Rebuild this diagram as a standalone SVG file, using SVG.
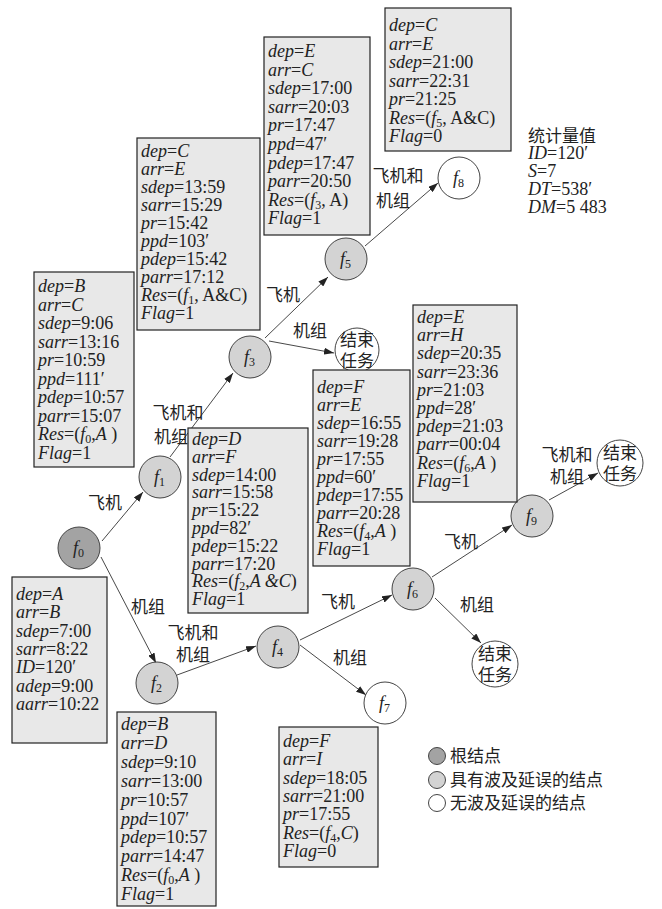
<svg xmlns="http://www.w3.org/2000/svg" width="662" height="909" viewBox="0 0 662 909">
<style>
.bg{fill:#fff}
.box{fill:#e8e8e8;stroke:#222;stroke-width:1.2}
.t{font-family:"Liberation Serif",serif;font-size:18px;fill:#222}
.i{font-style:italic}
.s{font-size:12px}
.cn{font-family:"Noto Sans CJK SC","Noto Sans",sans-serif;font-size:17px;fill:#222}
.mid{text-anchor:middle}
.root{fill:#a3a3a3;stroke:#444;stroke-width:1}
.del{fill:#d3d3d3;stroke:#444;stroke-width:1}
.ok{fill:#fff;stroke:#444;stroke-width:1}
.edge{stroke:#333;stroke-width:0.9;fill:none;marker-end:url(#ah)}
</style>
<defs>
<marker id="ah" markerUnits="userSpaceOnUse" markerWidth="10" markerHeight="7" refX="10" refY="3.5" orient="auto">
<path d="M0,0 L10,3.5 L0,7 z" fill="#222"/>
</marker>
</defs>
<rect class="bg" x="0" y="0" width="662" height="909"/>

<g id="connectors">
<line class="edge" x1="102" y1="541" x2="143" y2="492"/>
<line class="edge" x1="101" y1="557" x2="156" y2="663"/>
<line class="edge" x1="177" y1="675" x2="256" y2="646"/>
<line class="edge" x1="170" y1="457" x2="233" y2="373"/>
<line class="edge" x1="265" y1="338" x2="328" y2="277"/>
<line class="edge" x1="269" y1="341" x2="334" y2="353"/>
<line class="edge" x1="365" y1="246" x2="438" y2="183"/>
<line class="edge" x1="300" y1="640" x2="392" y2="595"/>
<line class="edge" x1="300" y1="645" x2="366" y2="695"/>
<line class="edge" x1="435" y1="598" x2="481" y2="643"/>
<line class="edge" x1="432" y1="577" x2="512" y2="525"/>
<line class="edge" x1="549" y1="500" x2="598" y2="473"/>
<text class="cn mid" x="105" y="509">飞机</text>
<text class="cn mid" x="148" y="613">机组</text>
<text class="cn mid" x="193" y="639">飞机和</text>
<text class="cn mid" x="193" y="661">机组</text>
<text class="cn mid" x="178" y="419">飞机和</text>
<text class="cn mid" x="171" y="443">机组</text>
<text class="cn mid" x="283" y="301">飞机</text>
<text class="cn mid" x="310" y="337">机组</text>
<text class="cn mid" x="398" y="182">飞机和</text>
<text class="cn mid" x="393" y="207">机组</text>
<text class="cn mid" x="338" y="608">飞机</text>
<text class="cn mid" x="350" y="664">机组</text>
<text class="cn mid" x="477" y="611">机组</text>
<text class="cn mid" x="461" y="548">飞机</text>
<text class="cn mid" x="567" y="461">飞机和</text>
<text class="cn mid" x="567" y="483">机组</text>
</g>

<g id="node-f0"><circle class="root" cx="79" cy="548" r="21"/><text class="t" x="73" y="554"><tspan class="i">f</tspan><tspan class="s" dy="3">0</tspan></text></g>
<g id="node-f1"><circle class="del" cx="160" cy="477" r="21"/><text class="t" x="154" y="483"><tspan class="i">f</tspan><tspan class="s" dy="3">1</tspan></text></g>
<g id="node-f2"><circle class="del" cx="157" cy="683" r="21"/><text class="t" x="151" y="689"><tspan class="i">f</tspan><tspan class="s" dy="3">2</tspan></text></g>
<g id="node-f3"><circle class="del" cx="250" cy="357" r="21"/><text class="t" x="244" y="363"><tspan class="i">f</tspan><tspan class="s" dy="3">3</tspan></text></g>
<g id="node-f4"><circle class="del" cx="278" cy="647" r="21"/><text class="t" x="272" y="653"><tspan class="i">f</tspan><tspan class="s" dy="3">4</tspan></text></g>
<g id="node-f5"><circle class="del" cx="346" cy="259" r="21"/><text class="t" x="340" y="265"><tspan class="i">f</tspan><tspan class="s" dy="3">5</tspan></text></g>
<g id="node-f6"><circle class="del" cx="413" cy="589" r="21"/><text class="t" x="407" y="595"><tspan class="i">f</tspan><tspan class="s" dy="3">6</tspan></text></g>
<g id="node-f7"><circle class="ok" cx="385" cy="703" r="21"/><text class="t" x="379" y="709"><tspan class="i">f</tspan><tspan class="s" dy="3">7</tspan></text></g>
<g id="node-f8"><circle class="ok" cx="459" cy="178" r="21"/><text class="t" x="453" y="184"><tspan class="i">f</tspan><tspan class="s" dy="3">8</tspan></text></g>
<g id="node-f9"><circle class="del" cx="532" cy="516" r="21"/><text class="t" x="526" y="522"><tspan class="i">f</tspan><tspan class="s" dy="3">9</tspan></text></g>
<g id="node-end1"><circle class="ok" cx="357" cy="350" r="22"/><text class="cn mid" x="357" y="346">结束</text><text class="cn mid" x="357" y="367">任务</text></g>
<g id="node-end2"><circle class="ok" cx="495" cy="664" r="23"/><text class="cn mid" x="495" y="660">结束</text><text class="cn mid" x="495" y="681">任务</text></g>
<g id="node-end3"><circle class="ok" cx="620" cy="463" r="23"/><text class="cn mid" x="620" y="459">结束</text><text class="cn mid" x="620" y="480">任务</text></g>

<g id="box-f8"><rect class="box" x="385" y="8" width="126" height="143"/>
<text class="t" x="389" y="31"><tspan class="i">dep</tspan>=<tspan class="i">C</tspan></text>
<text class="t" x="389" y="49.5"><tspan class="i">arr</tspan>=<tspan class="i">E</tspan></text>
<text class="t" x="389" y="68"><tspan class="i">sdep</tspan>=21:00</text>
<text class="t" x="389" y="86.5"><tspan class="i">sarr</tspan>=22:31</text>
<text class="t" x="389" y="105"><tspan class="i">pr</tspan>=21:25</text>
<text class="t" x="389" y="123.5"><tspan class="i">Res</tspan>=(<tspan class="i">f</tspan><tspan class="s" dy="3">5</tspan><tspan dy="-3">, A&amp;C)</tspan></text>
<text class="t" x="389" y="142"><tspan class="i">Flag</tspan>=0</text>
</g>

<g id="box-f5"><rect class="box" x="264" y="37" width="106" height="198"/>
<text class="t" x="268" y="57"><tspan class="i">dep</tspan>=<tspan class="i">E</tspan></text>
<text class="t" x="268" y="75.6"><tspan class="i">arr</tspan>=<tspan class="i">C</tspan></text>
<text class="t" x="268" y="94.2"><tspan class="i">sdep</tspan>=17:00</text>
<text class="t" x="268" y="112.8"><tspan class="i">sarr</tspan>=20:03</text>
<text class="t" x="268" y="131.4"><tspan class="i">pr</tspan>=17:47</text>
<text class="t" x="268" y="150"><tspan class="i">ppd</tspan>=47′</text>
<text class="t" x="268" y="168.6"><tspan class="i">pdep</tspan>=17:47</text>
<text class="t" x="268" y="187.2"><tspan class="i">parr</tspan>=20:50</text>
<text class="t" x="268" y="205.8"><tspan class="i">Res</tspan>=(<tspan class="i">f</tspan><tspan class="s" dy="3">3</tspan><tspan dy="-3">, A)</tspan></text>
<text class="t" x="268" y="224.4"><tspan class="i">Flag</tspan>=1</text>
</g>

<g id="box-f3"><rect class="box" x="137" y="138" width="123" height="192"/>
<text class="t" x="141" y="157"><tspan class="i">dep</tspan>=<tspan class="i">C</tspan></text>
<text class="t" x="141" y="175"><tspan class="i">arr</tspan>=<tspan class="i">E</tspan></text>
<text class="t" x="141" y="193"><tspan class="i">sdep</tspan>=13:59</text>
<text class="t" x="141" y="211"><tspan class="i">sarr</tspan>=15:29</text>
<text class="t" x="141" y="229"><tspan class="i">pr</tspan>=15:42</text>
<text class="t" x="141" y="247"><tspan class="i">ppd</tspan>=103′</text>
<text class="t" x="141" y="265"><tspan class="i">pdep</tspan>=15:42</text>
<text class="t" x="141" y="283"><tspan class="i">parr</tspan>=17:12</text>
<text class="t" x="141" y="301"><tspan class="i">Res</tspan>=(<tspan class="i">f</tspan><tspan class="s" dy="3">1</tspan><tspan dy="-3">, A&amp;C)</tspan></text>
<text class="t" x="141" y="319"><tspan class="i">Flag</tspan>=1</text>
</g>

<g id="box-f1"><rect class="box" x="34" y="272" width="100" height="195"/>
<text class="t" x="38" y="292"><tspan class="i">dep</tspan>=<tspan class="i">B</tspan></text>
<text class="t" x="38" y="310.5"><tspan class="i">arr</tspan>=<tspan class="i">C</tspan></text>
<text class="t" x="38" y="329"><tspan class="i">sdep</tspan>=9:06</text>
<text class="t" x="38" y="347.5"><tspan class="i">sarr</tspan>=13:16</text>
<text class="t" x="38" y="366"><tspan class="i">pr</tspan>=10:59</text>
<text class="t" x="38" y="384.5"><tspan class="i">ppd</tspan>=111′</text>
<text class="t" x="38" y="403"><tspan class="i">pdep</tspan>=10:57</text>
<text class="t" x="38" y="421.5"><tspan class="i">parr</tspan>=15:07</text>
<text class="t" x="38" y="440"><tspan class="i">Res</tspan>=(<tspan class="i">f</tspan><tspan class="s" dy="3">0</tspan><tspan dy="-3">,</tspan><tspan class="i">A</tspan> )</text>
<text class="t" x="38" y="458.5"><tspan class="i">Flag</tspan>=1</text>
</g>

<g id="box-f2a"><rect class="box" x="188" y="428" width="120" height="185"/>
<text class="t" x="192" y="445"><tspan class="i">dep</tspan>=<tspan class="i">D</tspan></text>
<text class="t" x="192" y="462.8"><tspan class="i">arr</tspan>=<tspan class="i">F</tspan></text>
<text class="t" x="192" y="480.6"><tspan class="i">sdep</tspan>=14:00</text>
<text class="t" x="192" y="498.4"><tspan class="i">sarr</tspan>=15:58</text>
<text class="t" x="192" y="516.2"><tspan class="i">pr</tspan>=15:22</text>
<text class="t" x="192" y="534"><tspan class="i">ppd</tspan>=82′</text>
<text class="t" x="192" y="551.8"><tspan class="i">pdep</tspan>=15:22</text>
<text class="t" x="192" y="569.6"><tspan class="i">parr</tspan>=17:20</text>
<text class="t" x="192" y="587.4"><tspan class="i">Res</tspan>=(<tspan class="i">f</tspan><tspan class="s" dy="3">2</tspan><tspan dy="-3">,</tspan><tspan class="i">A &amp;C</tspan>)</text>
<text class="t" x="192" y="605.2"><tspan class="i">Flag</tspan>=1</text>
</g>

<g id="box-f4"><rect class="box" x="313" y="370" width="97" height="196"/>
<text class="t" x="317" y="393"><tspan class="i">dep</tspan>=<tspan class="i">F</tspan></text>
<text class="t" x="317" y="411"><tspan class="i">arr</tspan>=<tspan class="i">E</tspan></text>
<text class="t" x="317" y="429"><tspan class="i">sdep</tspan>=16:55</text>
<text class="t" x="317" y="447"><tspan class="i">sarr</tspan>=19:28</text>
<text class="t" x="317" y="465"><tspan class="i">pr</tspan>=17:55</text>
<text class="t" x="317" y="483"><tspan class="i">ppd</tspan>=60′</text>
<text class="t" x="317" y="501"><tspan class="i">pdep</tspan>=17:55</text>
<text class="t" x="317" y="519"><tspan class="i">parr</tspan>=20:28</text>
<text class="t" x="317" y="537"><tspan class="i">Res</tspan>=(<tspan class="i">f</tspan><tspan class="s" dy="3">4</tspan><tspan dy="-3">,</tspan><tspan class="i">A</tspan> )</text>
<text class="t" x="317" y="555"><tspan class="i">Flag</tspan>=1</text>
</g>

<g id="box-f6"><rect class="box" x="413" y="305" width="104" height="197"/>
<text class="t" x="417" y="323"><tspan class="i">dep</tspan>=<tspan class="i">E</tspan></text>
<text class="t" x="417" y="341.2"><tspan class="i">arr</tspan>=<tspan class="i">H</tspan></text>
<text class="t" x="417" y="359.4"><tspan class="i">sdep</tspan>=20:35</text>
<text class="t" x="417" y="377.6"><tspan class="i">sarr</tspan>=23:36</text>
<text class="t" x="417" y="395.8"><tspan class="i">pr</tspan>=21:03</text>
<text class="t" x="417" y="414"><tspan class="i">ppd</tspan>=28′</text>
<text class="t" x="417" y="432.2"><tspan class="i">pdep</tspan>=21:03</text>
<text class="t" x="417" y="450.4"><tspan class="i">parr</tspan>=00:04</text>
<text class="t" x="417" y="468.6"><tspan class="i">Res</tspan>=(<tspan class="i">f</tspan><tspan class="s" dy="3">6</tspan><tspan dy="-3">,</tspan><tspan class="i">A</tspan> )</text>
<text class="t" x="417" y="486.8"><tspan class="i">Flag</tspan>=1</text>
</g>

<g id="box-f0"><rect class="box" x="12" y="577" width="95" height="166"/>
<text class="t" x="16" y="600"><tspan class="i">dep</tspan>=<tspan class="i">A</tspan></text>
<text class="t" x="16" y="618.3"><tspan class="i">arr</tspan>=<tspan class="i">B</tspan></text>
<text class="t" x="16" y="636.6"><tspan class="i">sdep</tspan>=7:00</text>
<text class="t" x="16" y="654.9"><tspan class="i">sarr</tspan>=8:22</text>
<text class="t" x="16" y="673.2"><tspan class="i">ID</tspan>=120′</text>
<text class="t" x="16" y="691.5"><tspan class="i">adep</tspan>=9:00</text>
<text class="t" x="16" y="709.8"><tspan class="i">aarr</tspan>=10:22</text>
</g>

<g id="box-f2b"><rect class="box" x="117" y="712" width="99" height="194"/>
<text class="t" x="121" y="730"><tspan class="i">dep</tspan>=<tspan class="i">B</tspan></text>
<text class="t" x="121" y="748.9"><tspan class="i">arr</tspan>=<tspan class="i">D</tspan></text>
<text class="t" x="121" y="767.8"><tspan class="i">sdep</tspan>=9:10</text>
<text class="t" x="121" y="786.7"><tspan class="i">sarr</tspan>=13:00</text>
<text class="t" x="121" y="805.6"><tspan class="i">pr</tspan>=10:57</text>
<text class="t" x="121" y="824.5"><tspan class="i">ppd</tspan>=107′</text>
<text class="t" x="121" y="843.4"><tspan class="i">pdep</tspan>=10:57</text>
<text class="t" x="121" y="862.3"><tspan class="i">parr</tspan>=14:47</text>
<text class="t" x="121" y="881.2"><tspan class="i">Res</tspan>=(<tspan class="i">f</tspan><tspan class="s" dy="3">0</tspan><tspan dy="-3">,</tspan><tspan class="i">A</tspan> )</text>
<text class="t" x="121" y="900.1"><tspan class="i">Flag</tspan>=1</text>
</g>

<g id="box-f7"><rect class="box" x="279" y="727" width="99" height="140"/>
<text class="t" x="283" y="747"><tspan class="i">dep</tspan>=<tspan class="i">F</tspan></text>
<text class="t" x="283" y="765.3"><tspan class="i">arr</tspan>=<tspan class="i">I</tspan></text>
<text class="t" x="283" y="783.6"><tspan class="i">sdep</tspan>=18:05</text>
<text class="t" x="283" y="801.9"><tspan class="i">sarr</tspan>=21:00</text>
<text class="t" x="283" y="820.2"><tspan class="i">pr</tspan>=17:55</text>
<text class="t" x="283" y="838.5"><tspan class="i">Res</tspan>=(<tspan class="i">f</tspan><tspan class="s" dy="3">4</tspan><tspan dy="-3">,</tspan><tspan class="i">C</tspan>)</text>
<text class="t" x="283" y="856.8"><tspan class="i">Flag</tspan>=0</text>
</g>

<g id="stats">
<text class="cn" x="528" y="142">统计量值</text>
<text class="t" x="528" y="159"><tspan class="i">ID</tspan>=120′</text>
<text class="t" x="528" y="177"><tspan class="i">S</tspan>=7</text>
<text class="t" x="528" y="195"><tspan class="i">DT</tspan>=538′</text>
<text class="t" x="528" y="213"><tspan class="i">DM</tspan>=5 483</text>
</g>

<g id="legend">
<circle class="root" cx="437" cy="756" r="8.5"/>
<text class="cn" x="450" y="762">根结点</text>
<circle class="del" cx="437" cy="780" r="8.5"/>
<text class="cn" x="450" y="786">具有波及延误的结点</text>
<circle class="ok" cx="437" cy="803" r="8.5"/>
<text class="cn" x="450" y="809">无波及延误的结点</text>
</g>
</svg>
